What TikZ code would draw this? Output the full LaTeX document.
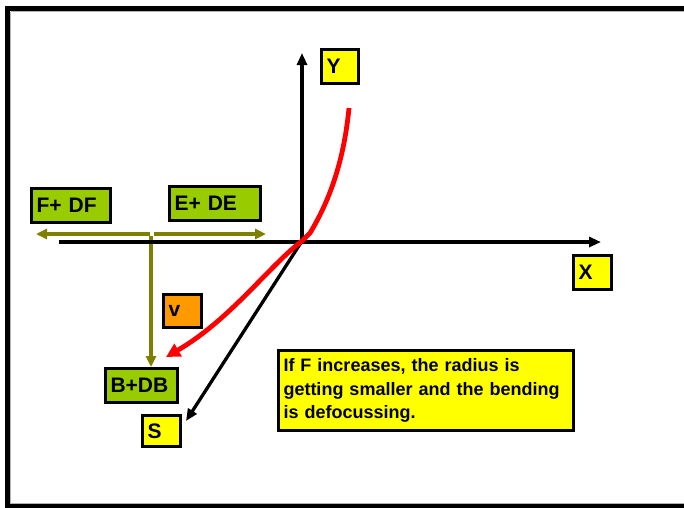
\documentclass[tikz,border=0pt]{standalone}
\usepackage{fontspec}
\setmainfont{Liberation Sans}
\usetikzlibrary{arrows.meta}
\definecolor{ylw}{HTML}{FFFF00}
\definecolor{grn}{HTML}{99CC00}
\definecolor{org}{HTML}{FF9900}
\definecolor{olv}{HTML}{808000}
\definecolor{rd}{HTML}{FF0000}
\begin{document}
\begin{tikzpicture}[x=1pt,y=-1pt,
  lbl/.style={draw=black, line width=3.4pt, anchor=north west, outer sep=0pt,
    inner xsep=5pt, inner ysep=0pt, font=\fontsize{21}{22}\selectfont\bfseries, align=left},
  ax/.style={line width=3.3pt, -{Triangle[length=12pt,width=10pt]}},
  olvarrow/.style={draw=olv, line width=3.3pt, -{Triangle[length=11pt,width=10pt]}},
  frame/.style={draw=black, line width=5pt}]
\useasboundingbox (0,0) rectangle (684,507);
\clip (0,0) rectangle (684,507);
\fill[white] (0,0) rectangle (684,507);
\draw[frame] (7.5,8.5) rectangle (720,506.5);
\draw[gray!60, line width=0.8pt] (10.5,11.5) -- (700,11.5);
\draw[gray!60, line width=0.8pt] (10.5,11.5) -- (10.5,503.5) -- (700,503.5);

% coordinates
\coordinate (O) at (302,241);
\coordinate (xs) at (59,242);
\coordinate (xe) at (601,242);
\coordinate (ye) at (302,53);
\coordinate (se) at (186,421);
\coordinate (om) at (152,234);
\coordinate (ol) at (36,234);
\coordinate (or) at (266,234);
\coordinate (vt) at (151,236);
\coordinate (vb) at (151,367);
\coordinate (rs) at (349,108);
\coordinate (rk) at (310,233);
\coordinate (re) at (166,357);

% labels
\node[lbl, fill=ylw, text width=27pt, minimum height=34pt] (Y) at (321.5,49.5) {Y};
\node[lbl, fill=ylw, text width=28pt, minimum height=34pt] (X) at (573.5,255.5) {X};
\node[lbl, fill=ylw, text width=28pt, minimum height=31pt] (S) at (142.5,415.5) {S};
\node[lbl, fill=grn, text width=62pt, minimum height=34pt] (B) at (105.5,368.5) {B+DB};
\node[lbl, fill=org, text width=28pt, minimum height=33pt] (V) at (163.5,294.5) {v};
\node[lbl, fill=grn, text width=69pt, minimum height=34pt] (F) at (31.5,188.5) {F+ DF};
\node[lbl, fill=grn, text width=81pt, minimum height=34pt] (E) at (169.5,186.5) {E+ DE};
\node[lbl, fill=ylw, text width=285pt, minimum height=80pt, font=\fontsize{18}{23.5}\selectfont\bfseries] (T) at (278.5,350.5)
  {If F increases, the radius is\\getting smaller and the bending\\is defocussing.};

% olive arrows
\draw[olvarrow] ([xshift=-2pt]om) -- (ol);
\draw[olvarrow] ([xshift=2pt]om) -- (or);
\draw[olvarrow] (vt) -- (vb);

% axes
\draw[ax] (xs) -- (xe);
\draw[ax] (O) -- (ye);
\draw[ax] (O) -- (se);

% red curve
\draw[draw=rd, line width=4.8pt, -{Triangle[length=14pt,width=14pt]}]
  (rs) .. controls (344,160) and (330,200) .. (rk) -- (O)
       .. controls (270,265) and (230,320) .. (re);
\end{tikzpicture}
\end{document}
